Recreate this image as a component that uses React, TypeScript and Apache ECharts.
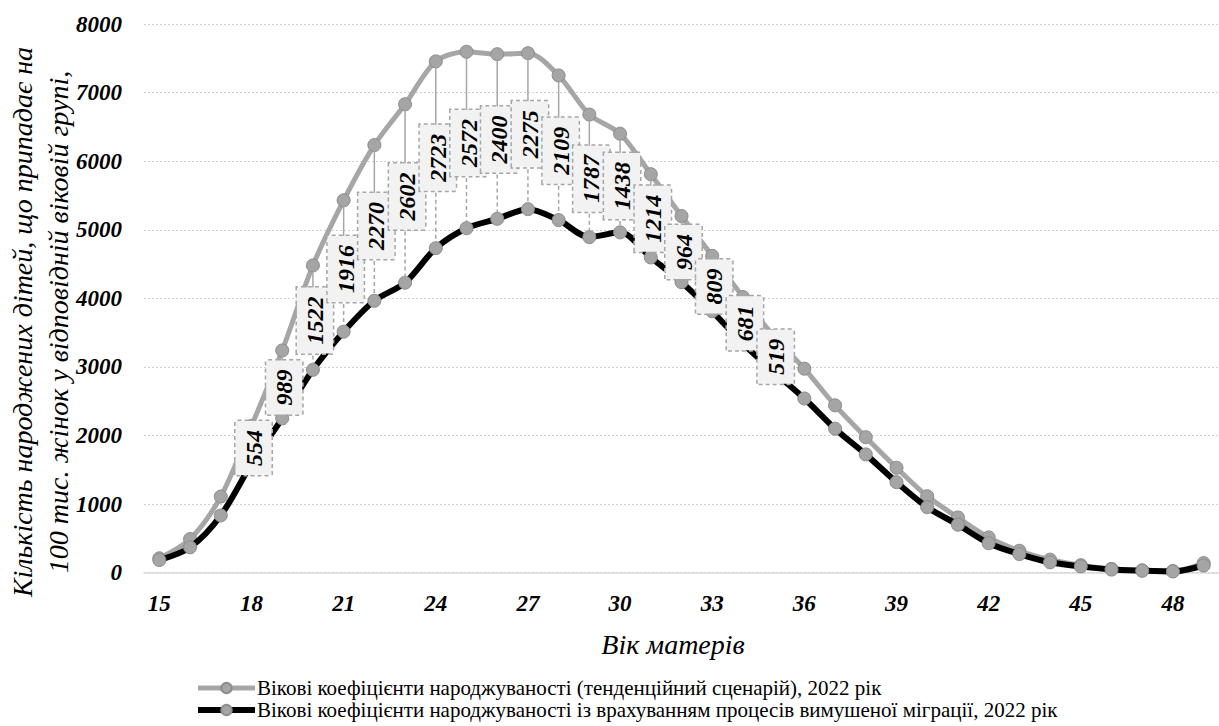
import React, { useEffect, useRef } from "react";
import * as echarts from "echarts";

const ages = ["15","16","17","18","19","20","21","22","23","24","25","26","27","28","29","30","31","32","33","34","35","36","37","38","39","40","41","42","43","44","45","46","47","48","49"];

const trendValues = [210,490,1110,2140,3240,4480,5430,6235,6830,7455,7595,7560,7575,7250,6680,6400,5810,5200,4620,4020,3450,2975,2440,1975,1530,1115,805,515,320,190,110,55,35,25,140];

const migrationValues = [185,370,835,1586,2251,2958,3514,3965,4228,4732,5023,5160,5300,5141,4893,4962,4596,4236,3811,3339,2931,2540,2100,1725,1320,955,700,430,272,152,92,45,28,18,105];

const diffAges = ["18","19","20","21","22","23","24","25","26","27","28","29","30","31","32","33","34","35"];
const diffLabels = [554,989,1522,1916,2270,2602,2723,2572,2400,2275,2109,1787,1438,1214,964,809,681,519];

const yTicks = { min: 0, max: 8000, interval: 1000 };

const seriesNames = [
  "Вікові коефіцієнти народжуваності (тенденційний сценарій), 2022 рік",
  "Вікові коефіцієнти народжуваності із врахуванням процесів вимушеної міграції, 2022 рік",
];

const yTitle = "Кількість народжених дітей, що припадає на\n100 тис. жінок у відповідній віковій групі,";
const xTitle = "Вік матерів";

const FONT = "'Liberation Serif', 'Times New Roman', serif";

export default function App() {
  const ref = useRef<HTMLDivElement>(null);
  useEffect(() => {
    if (!ref.current) return;
    const chart = echarts.init(ref.current, null, { renderer: "svg" });
    const diffData = diffAges.map((a, k) => {
      const idx = ages.indexOf(a);
      return [idx, trendValues[idx], migrationValues[idx], diffLabels[k]];
    });
    chart.setOption({
      animation: false,
      backgroundColor: "#ffffff",
      textStyle: { fontFamily: FONT },
      grid: { left: 144, top: 24, width: 1084, height: 548.7, containLabel: false },
      xAxis: {
        type: "category",
        data: ages,
        boundaryGap: true,
        axisLine: { show: true, lineStyle: { color: "#d9d9d9", width: 1.5 } },
        axisTick: { show: false },
        axisLabel: {
          interval: 2,
          margin: 19,
          fontFamily: FONT,
          fontSize: 23,
          fontStyle: "italic",
          fontWeight: "bold",
          color: "#000",
        },
        splitLine: { show: false },
      },
      yAxis: {
        type: "value",
        min: yTicks.min,
        max: yTicks.max,
        interval: yTicks.interval,
        axisLine: { show: false },
        axisTick: { show: false },
        axisLabel: {
          margin: 22,
          fontFamily: FONT,
          fontSize: 23,
          fontStyle: "italic",
          fontWeight: "bold",
          color: "#000",
          formatter: (v: number) => String(v),
        },
        splitLine: { show: true, lineStyle: { color: "#d0d0d0", type: [2, 2], width: 1.2 } },
      },
      legend: {
        orient: "vertical",
        left: 190,
        top: 672,
        itemWidth: 57,
        itemHeight: 13,
        itemGap: 0,
        data: [
          { name: seriesNames[0], lineStyle: { width: 5, color: "#a6a6a6" } },
          { name: seriesNames[1], lineStyle: { width: 6, color: "#000000" } },
        ],
        textStyle: { fontFamily: FONT, fontSize: 21, color: "#000", lineHeight: 22, padding: [0, 0, 0, -3] },
      },
      series: [
        {
          name: seriesNames[0],
          type: "line",
          data: trendValues,
          smooth: 0.3,
          symbol: "circle",
          symbolSize: 13,
          lineStyle: { color: "#a6a6a6", width: 5 },
          itemStyle: { color: "#a5a5a5", borderColor: "#8c8c8c", borderWidth: 1 },
          z: 2,
        },
        {
          name: seriesNames[1],
          type: "line",
          data: migrationValues,
          smooth: 0.3,
          symbol: "circle",
          symbolSize: 13,
          lineStyle: { color: "#000000", width: 6 },
          itemStyle: { color: "#a5a5a5", borderColor: "#8c8c8c", borderWidth: 1 },
          z: 3,
        },
        {
          type: "custom",
          data: diffData,
          z: 5,
          clip: false,
          encode: { x: 0, y: [1, 2] },
          renderItem: (params: any, api: any) => {
            const i = api.value(0);
            const g = api.value(1);
            const b = api.value(2);
            const d = api.value(3);
            const pg = api.coord([i, g]);
            const pb = api.coord([i, b]);
            const x = pg[0];
            const mid = (pg[1] + pb[1]) / 2 + 3;
            return {
              type: "group",
              children: [
                {
                  type: "line",
                  shape: { x1: x, y1: pg[1] + 6, x2: x, y2: mid },
                  style: { stroke: "#a6a6a6", lineWidth: 1.5 },
                },
                {
                  type: "line",
                  shape: { x1: x, y1: mid, x2: x, y2: pb[1] - 6 },
                  style: { stroke: "#a6a6a6", lineWidth: 1.5, lineDash: [4, 3] },
                },
                {
                  type: "text",
                  x: x + 2,
                  y: mid,
                  rotation: Math.PI / 2,
                  style: {
                    text: String(d),
                    fill: "#000",
                    font: "italic bold 24px " + FONT,
                    lineHeight: 24,
                    align: "center",
                    verticalAlign: "middle",
                    backgroundColor: "#f2f2f2",
                    borderColor: "#a6a6a6",
                    borderWidth: 1.5,
                    borderDash: [4, 3],
                    padding: [6, 9],
                  },
                },
              ],
            };
          },
        },
      ],
      graphic: [
        {
          type: "text",
          x: 40,
          y: 322,
          rotation: Math.PI / 2,
          style: {
            text: yTitle,
            fill: "#000",
            font: "italic 28px " + FONT,
            align: "center",
            verticalAlign: "middle",
            lineHeight: 36,
          },
        },
        {
          type: "text",
          x: 673,
          y: 644,
          style: {
            text: xTitle,
            fill: "#000",
            font: "italic 28px " + FONT,
            align: "center",
            verticalAlign: "middle",
          },
        },
      ],
    });
    return () => chart.dispose();
  }, []);
  return (
    <div
      ref={ref}
      style={{ position: "absolute", left: 0, top: 0, width: 1219, height: 726, overflow: "hidden" }}
    />
  );
}
